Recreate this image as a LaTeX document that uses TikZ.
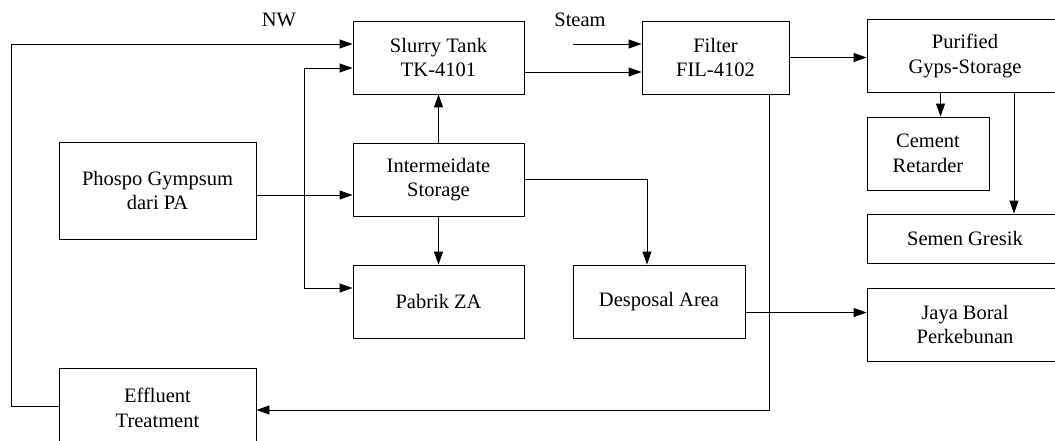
\documentclass[tikz,border=0pt]{standalone}
\usepackage{fontspec}
\setmainfont{Liberation Serif}
\usetikzlibrary{arrows.meta,calc}
\begin{document}
\begin{tikzpicture}[x=1pt,y=-1pt,
  box/.style={draw, line width=0.9pt, inner sep=0pt, align=center,
    font=\fontsize{20.5}{24.5}\selectfont},
  lbl/.style={inner sep=0pt, font=\fontsize{20.5}{24.5}\selectfont},
  arr/.style={line width=0.9pt, -{Triangle[length=13pt,width=9pt]}},
  ln/.style={line width=0.9pt}]
\path[use as bounding box] (0,0) rectangle (1055,441);
\clip (0,0) rectangle (1055,441);

% process units
\node[box, minimum width=171pt, minimum height=73pt] (slurry) at (438.5,57.5) {Slurry Tank\\TK-4101};
\node[box, minimum width=147pt, minimum height=73pt] (filter) at (715.5,57.5) {Filter\\FIL-4102};
\node[box, minimum width=200pt, minimum height=73pt] (purified) at (967,55.75) {};
\node[lbl, align=center] (purtxt) at (965,55.75) {Purified\\Gyps-Storage};
\node[box, minimum width=122pt, minimum height=73pt] (cement) at (928,153.5) {Cement\\Retarder};
\node[box, minimum width=200pt, minimum height=49pt] (semen) at (967,238.5) {};
\node[lbl] (semtxt) at (965,238.5) {Semen Gresik};
\node[box, minimum width=200pt, minimum height=73pt] (jaya) at (967,324.5) {};
\node[lbl, align=center] (jayatxt) at (965,324.5) {Jaya Boral\\Perkebunan};
\node[box, minimum width=197pt, minimum height=97pt] (phospo) at (157.5,190.5) {Phospo Gympsum\\dari PA};
\node[box, minimum width=171pt, minimum height=73pt] (inter) at (438.5,179.5) {Intermeidate\\Storage};
\node[box, minimum width=171pt, minimum height=73pt] (pabrik) at (438.5,301.5) {Pabrik ZA};
\node[box, minimum width=172pt, minimum height=73pt] (desp) at (659,301.5) {Desposal Area};
\node[box, minimum width=197pt, minimum height=80pt] (eff) at (157.5,408) {Effluent\\Treatment};

% stream labels
\node[lbl] (nw) at (279,19.5) {NW};
\node[lbl] (steam) at (580,20) {Steam};

% routing points
\coordinate (j) at (304,195);
\coordinate (nwc) at (11,44);
\coordinate (steamsrc) at (573,44);
\coordinate (sg) at (1014,0);
\coordinate (dj) at ([yshift=-11pt]desp.east);
\coordinate (fe) at ([xshift=53.5pt]filter.south);

% connectors
\draw[arr] ([yshift=2pt]eff.west) -| (nwc) -- ([yshift=13.5pt]slurry.west);
\draw[ln] (phospo.east |- j) -- (j);
\draw[arr] (j) -- (inter.west |- j);
\draw[arr] (j) |- ([yshift=-10.5pt]slurry.west);
\draw[arr] (j) |- ([yshift=13.5pt]pabrik.west);
\draw[arr] (inter.north) -- (slurry.south);
\draw[arr] (inter.south) -- (pabrik.north);
\draw[arr] (inter.east) -| ([xshift=-12pt]desp.north);
\draw[arr] ([yshift=-14.5pt]slurry.east) -- ([yshift=-14.5pt]filter.west);
\draw[arr] (steamsrc) -- (filter.west |- steamsrc);
\draw[arr] (filter.east) -- (purified.west |- filter.east);
\draw[arr] (fe) |- ([yshift=-2pt]eff.east);
\draw[arr] ([xshift=12.5pt]cement.north |- purified.south) -- ([xshift=12.5pt]cement.north);
\draw[arr] (purified.south -| sg) -- (semen.north -| sg);
\draw[arr] (dj) -- (dj -| jaya.west);
\end{tikzpicture}
\end{document}
